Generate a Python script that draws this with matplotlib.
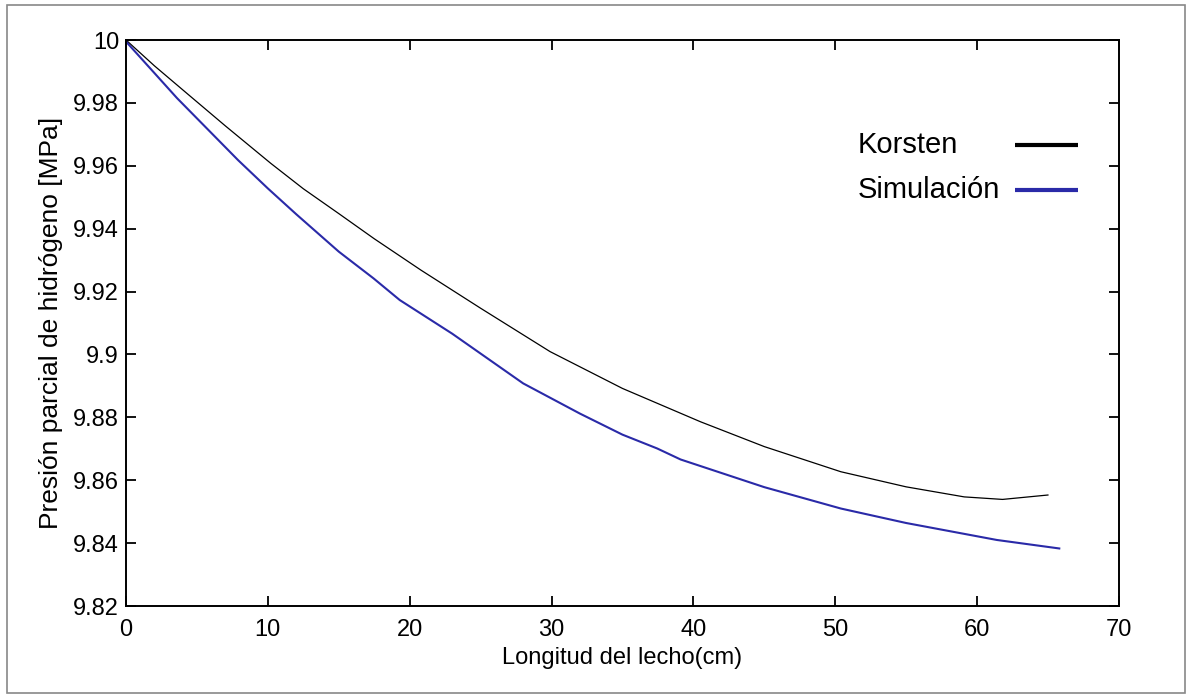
import matplotlib.pyplot as plt
from matplotlib.patches import Rectangle

# Data
x_korsten = [0, 2, 4.3, 7, 10.2, 12.5, 15, 17.5, 20.8, 25, 29.9, 35, 40.5, 45, 50.4, 55, 59.1, 61.8, 65]
p_korsten = [10.0, 9.9918, 9.983, 9.9727, 9.9608, 9.9527, 9.9448, 9.9368, 9.9268, 9.9147, 9.9009,
             9.8892, 9.8786, 9.8707, 9.8627, 9.8579, 9.8547, 9.8539, 9.8553]
x_sim = [0, 3.6, 7.9, 10, 12, 15, 17.45, 19.3, 23, 28, 32, 35, 37.45, 39.1, 45, 50.4, 55, 61.4, 65.8]
p_sim = [9.9995, 9.9815, 9.9618, 9.9528, 9.9446, 9.9327, 9.9242, 9.9173, 9.9066, 9.8908, 9.8812,
         9.8745, 9.8701, 9.8666, 9.8578, 9.851, 9.8464, 9.841, 9.8383]
series_names = ['Korsten', 'Simulación']
xticks = [0, 10, 20, 30, 40, 50, 60, 70]
yticks = [9.82, 9.84, 9.86, 9.88, 9.9, 9.92, 9.94, 9.96, 9.98, 10]
ytick_labels = ['9.82', '9.84', '9.86', '9.88', '9.9', '9.92', '9.94', '9.96', '9.98', '10']

font = ['Liberation Sans', 'DejaVu Sans']
blue = '#2a2aa8'
colors = ['black', blue]

fig = plt.figure(figsize=(11.89, 6.96), dpi=100)
ax = fig.add_axes([0.106, 0.1293, 0.835, 0.8132])

ax.plot(x_korsten, p_korsten, color=colors[0], linewidth=0.9)
ax.plot(x_sim, p_sim, color=colors[1], linewidth=1.5)

ax.set_xlim(0, 70)
ax.set_ylim(9.82, 10)
ax.set_xticks(xticks)
ax.set_xticklabels([str(t) for t in xticks], family=font, fontsize=17)
ax.set_yticks(yticks)
ax.set_yticklabels(ytick_labels, family=font, fontsize=17)
ax.tick_params(direction='in', top=True, right=True, length=7, width=1.3)
ax.tick_params(axis='x', pad=9)
ax.tick_params(axis='y', pad=5)
for s in ax.spines.values():
    s.set_linewidth(1.4)

ax.set_xlabel('Longitud del lecho(cm)', family=font, fontsize=17, labelpad=5)
ax.set_ylabel('Presión parcial de hidrógeno [MPa]', family=font, fontsize=19, labelpad=7)

# MATLAB-style legend: text left-aligned, sample line to the right
rows_y = [0.8145, 0.735]
for name, c, yy in zip(series_names, colors, rows_y):
    ax.text(0.737, yy, name, transform=ax.transAxes, family=font, fontsize=21,
            ha='left', va='center')
    ax.plot([0.895, 0.959], [yy, yy], transform=ax.transAxes, color=c, linewidth=3,
            solid_capstyle='butt')

# Light frame round the whole figure
fig.patches.append(Rectangle((0.006, 0.004), 0.991, 0.989, transform=fig.transFigure,
                             fill=False, edgecolor='#888888', linewidth=1.2))

fig.savefig('out.png', dpi=100)
